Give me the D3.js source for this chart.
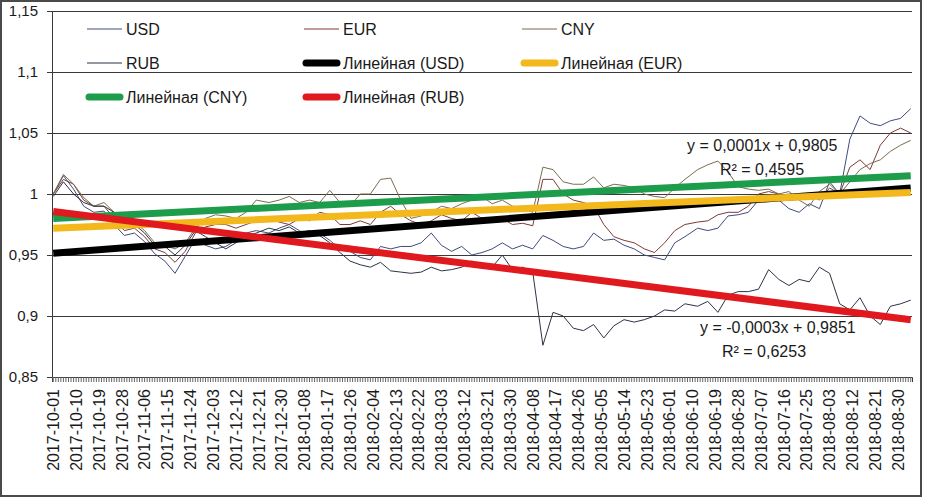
<!DOCTYPE html>
<html>
<head>
<meta charset="utf-8">
<script src="https://cdnjs.cloudflare.com/ajax/libs/d3/7.8.5/d3.min.js"></script>
<style>
body { margin: 0; background: #fff; }
svg text { font-family: "Liberation Sans", Arial, sans-serif; fill: #1a1a1a; }
</style>
</head>
<body>
<script>
// values, one sample about every 4 days
var seriesNames = ["USD", "EUR", "CNY", "RUB"];
var usd = [1.000, 1.015, 1.004, 0.990, 0.985, 0.986, 0.975, 0.966, 0.968, 0.961, 0.951, 0.945, 0.935, 0.949, 0.963,
    0.958, 0.955, 0.957, 0.962, 0.968, 0.970, 0.968, 0.972, 0.975, 0.970, 0.965, 0.968, 0.962, 0.955,
    0.953, 0.948, 0.946, 0.957, 0.955, 0.957, 0.957, 0.960, 0.968, 0.958, 0.953, 0.957, 0.950, 0.952, 0.955, 0.960, 0.955, 0.958, 0.955,
    0.966, 0.962, 0.957, 0.955, 0.957, 0.968, 0.962, 0.963, 0.958, 0.955, 0.950, 0.948, 0.946, 0.960, 0.965, 0.972, 0.970, 0.972,
    0.982, 0.983, 0.985, 0.995, 0.998, 0.995, 0.988, 0.985, 0.992, 0.988, 1.010, 1.000, 1.045, 1.064, 1.058, 1.056, 1.060, 1.062, 1.070];
var eur = [1.000, 1.012, 1.008, 0.995, 0.990, 0.990, 0.980, 0.970, 0.972, 0.965, 0.955, 0.952, 0.944, 0.953, 0.968,
    0.973, 0.975, 0.975, 0.972, 0.975, 0.978, 0.980, 0.977, 0.975, 0.980, 0.978, 0.985, 0.983, 0.975,
    0.975, 0.978, 0.975, 0.985, 0.990, 0.983, 0.978, 0.975, 0.978, 0.983, 0.980, 0.978, 0.985, 0.980, 0.977, 0.980, 0.975, 0.976, 0.974,
    1.012, 1.012, 1.000, 0.995, 0.993, 0.990, 0.975, 0.965, 0.962, 0.960, 0.955, 0.952, 0.960, 0.970, 0.975, 0.977, 0.978, 0.983,
    0.985, 0.985, 0.990, 1.000, 1.002, 1.000, 0.997, 0.998, 1.000, 0.995, 1.005, 1.000, 1.022, 1.028, 1.020, 1.040, 1.050, 1.054, 1.050];
var cny = [1.000, 1.016, 1.008, 0.997, 0.990, 0.993, 0.985, 0.980, 0.977, 0.970, 0.960, 0.958, 0.955, 0.960, 0.972,
    0.980, 0.983, 0.982, 0.980, 0.985, 0.995, 0.993, 0.995, 0.998, 0.993, 0.995, 0.993, 1.003, 0.993,
    0.990, 1.000, 1.000, 1.012, 1.013, 0.995, 0.980, 0.982, 0.985, 0.990, 0.988, 0.992, 0.995, 0.998, 0.992, 0.995, 0.990, 0.988, 0.985,
    1.022, 1.020, 1.010, 1.008, 1.008, 1.014, 1.005, 1.008, 1.007, 1.005, 1.000, 0.998, 0.997, 1.005, 1.012, 1.020, 1.024, 1.027,
    1.018, 1.006, 1.004, 1.003, 1.004, 1.000, 1.002, 0.995, 0.990, 1.002, 1.008, 1.000, 1.010, 1.020, 1.025, 1.028, 1.035, 1.040, 1.044];
var rub = [0.998, 1.010, 1.000, 0.993, 0.990, 0.990, 0.985, 0.975, 0.975, 0.968, 0.958, 0.957, 0.950, 0.958, 0.970,
    0.965, 0.960, 0.955, 0.960, 0.965, 0.968, 0.972, 0.970, 0.973, 0.968, 0.970, 0.966, 0.960, 0.952,
    0.945, 0.942, 0.940, 0.944, 0.937, 0.936, 0.935, 0.936, 0.940, 0.937, 0.938, 0.940, 0.945, 0.942, 0.940, 0.950, 0.938, 0.940, 0.936,
    0.876, 0.903, 0.900, 0.890, 0.888, 0.893, 0.882, 0.892, 0.897, 0.895, 0.897, 0.900, 0.905, 0.904, 0.910, 0.908, 0.912, 0.903,
    0.917, 0.920, 0.920, 0.922, 0.938, 0.930, 0.925, 0.930, 0.928, 0.940, 0.935, 0.910, 0.905, 0.915, 0.900, 0.893, 0.908, 0.910, 0.913];
var lineColors = ["#3e4c7c", "#7e3a36", "#7a6c4e", "#2b3345"];

// linear trends (start / end value) and their colours
var trendStart = [0.9515, 0.972, 0.980, 0.9857];
var trendEnd = [1.005, 1.0013, 1.015, 0.897];
var trendColors = ["#000000", "#f2b81c", "#1d9c4c", "#e0191e"];

var yTicks = [0.85, 0.9, 0.95, 1, 1.05, 1.1, 1.15];
var eqLabels = [
    {text: "y = 0,0001x + 0,9805", r2: "R² = 0,4595"},
    {text: "y = -0,0003x + 0,9851", r2: "R² = 0,6253"}
];

var W = 934, H = 498;
var margin = {left: 52, right: 22, top: 11, bottom: 121};

var svg = d3.select("body").append("svg")
    .attr("width", W).attr("height", H);

svg.append("rect")
    .attr("x", 1).attr("y", 1).attr("width", 920).attr("height", 495)
    .attr("fill", "#fff").attr("stroke", "#4a4a4a").attr("stroke-width", 2);

// categories: one per day
var dates = d3.utcDay.range(new Date(Date.UTC(2017, 9, 1)), new Date(Date.UTC(2018, 8, 5)));
var fmt = d3.utcFormat("%Y-%m-%d");
var sampleIdx = d3.range(usd.length).map(function(i) { return Math.round(i * (dates.length - 1) / (usd.length - 1)); });

var x = d3.scaleBand()
    .domain(dates.map(fmt))
    .range([margin.left, W - margin.right])
    .paddingInner(0);
var bw = x.bandwidth();
function cx(i) { return x(fmt(dates[i])) + bw / 2; }

var y = d3.scaleLinear()
    .domain([0.85, 1.15])
    .range([H - margin.bottom, margin.top]);

// gridlines
svg.append("g").selectAll("line")
    .data(yTicks.slice(1)).enter().append("line")
    .attr("x1", margin.left - 5).attr("x2", W - margin.right)
    .attr("y1", function(d) { return Math.round(y(d)) + 0.5; })
    .attr("y2", function(d) { return Math.round(y(d)) + 0.5; })
    .attr("stroke", "#3a3a3a").attr("stroke-width", 1);

// y axis
var yAxis = d3.axisLeft(y)
    .tickValues(yTicks)
    .tickSize(5)
    .tickFormat(function(d) { return String(d).replace(".", ","); });
var gy = svg.append("g")
    .attr("transform", "translate(" + margin.left + ",0)")
    .call(yAxis);
gy.selectAll("path, line").attr("stroke", "#3a3a3a");
gy.selectAll("text").attr("font-size", "15px").attr("x", -14).attr("fill", "#1a1a1a");

// x axis with a tick on every day
var xAxis = d3.axisBottom(x)
    .tickSize(5)
    .tickFormat(function(d, i) { return i % 9 === 0 ? d : ""; });
var gx = svg.append("g")
    .attr("transform", "translate(0," + (H - margin.bottom) + ")")
    .call(xAxis);
gx.select(".domain").attr("stroke", "#3a3a3a");
gx.selectAll("line").attr("stroke", "#666");
gx.selectAll("text")
    .attr("font-size", "16px")
    .attr("fill", "#1a1a1a")
    .attr("transform", "rotate(-90)")
    .attr("text-anchor", "end")
    .attr("x", -12).attr("y", 0).attr("dy", "0.36em");

// data lines
var seriesData = [usd, eur, cny, rub];
var line = d3.line()
    .x(function(d, i) { return cx(sampleIdx[i]); })
    .y(function(d) { return y(d); });

svg.append("g").selectAll("path")
    .data(seriesData).enter().append("path")
    .attr("d", line)
    .attr("fill", "none")
    .attr("stroke", function(d, i) { return lineColors[i]; })
    .attr("stroke-width", 1);

// trend lines
var last = dates.length - 1;
svg.append("g").selectAll("line")
    .data(seriesNames).enter().append("line")
    .attr("x1", cx(0)).attr("x2", cx(last))
    .attr("y1", function(d, i) { return y(trendStart[i]); })
    .attr("y2", function(d, i) { return y(trendEnd[i]); })
    .attr("stroke", function(d, i) { return trendColors[i]; })
    .attr("stroke-width", 7);

// trend equations (CNY and RUB)
var eqPos = [{x: 687, y: 151, rx: 720, ry: 175}, {x: 700, y: 333, rx: 722, ry: 357}];
eqLabels.forEach(function(e, i) {
    svg.append("text").attr("x", eqPos[i].x).attr("y", eqPos[i].y)
        .attr("font-size", "16px").text(e.text);
    svg.append("text").attr("x", eqPos[i].rx).attr("y", eqPos[i].ry)
        .attr("font-size", "16px").text(e.r2);
});

// legend
var legendItems = [
    {name: "USD", color: lineColors[0], thick: false},
    {name: "EUR", color: lineColors[1], thick: false},
    {name: "CNY", color: lineColors[2], thick: false},
    {name: "RUB", color: lineColors[3], thick: false},
    {name: "Линейная (USD)", color: trendColors[0], thick: true},
    {name: "Линейная (EUR)", color: trendColors[1], thick: true},
    {name: "Линейная (CNY)", color: trendColors[2], thick: true},
    {name: "Линейная (RUB)", color: trendColors[3], thick: true}
];
var colX = [87, 304, 522];
var rowY = [29, 63, 97];
var leg = svg.append("g").selectAll("g")
    .data(legendItems).enter().append("g")
    .attr("transform", function(d, i) {
        return "translate(" + colX[i % 3] + "," + rowY[Math.floor(i / 3)] + ")";
    });
leg.append("line")
    .attr("x1", function(d) { return d.thick ? 2 : 0; })
    .attr("x2", function(d) { return d.thick ? 33 : 35; })
    .attr("y1", 0).attr("y2", 0)
    .attr("stroke", function(d) { return d.color; })
    .attr("stroke-width", function(d) { return d.thick ? 7 : 1; })
    .attr("stroke-linecap", function(d) { return d.thick ? "round" : "butt"; });
leg.append("text")
    .attr("x", 39).attr("y", 0).attr("dy", "0.36em")
    .attr("font-size", "16px")
    .text(function(d) { return d.name; });
</script>
</body>
</html>
